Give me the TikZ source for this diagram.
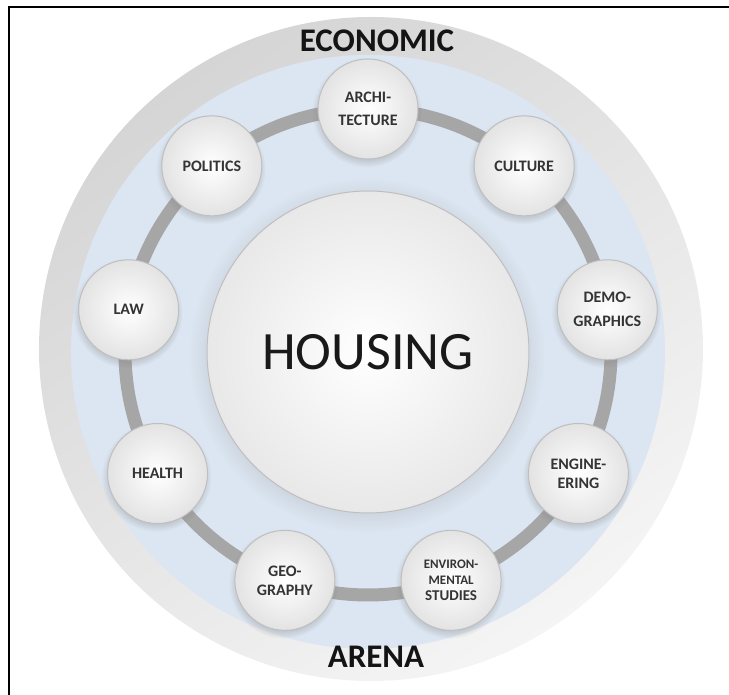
\documentclass[tikz,border=0pt]{standalone}
\usepackage{fontspec}
\setmainfont{Carlito}
\usetikzlibrary{shadows}

\definecolor{ringgray}{RGB}{166,166,166}
\definecolor{paleblue}{RGB}{220,230,242}
\definecolor{labelgray}{RGB}{52,52,52}

\tikzset{
  topic/.style={circle, minimum size=100pt, inner sep=0pt, align=center,
    draw=gray!50, line width=1pt, inner color=white, outer color=gray!22,
    circular drop shadow={shadow xshift=-1pt, shadow yshift=-3pt, opacity=0.3},
    text=labelgray, font=\fontsize{16}{19}\selectfont\bfseries},
  hub/.style={circle, minimum size=322pt, inner sep=0pt,
    draw=gray!50, line width=1pt, inner color=white, outer color=gray!18,
    circular drop shadow={shadow xshift=-1pt, shadow yshift=-3pt, opacity=0.2},
    text=black!90, font=\fontsize{54}{60}\selectfont},
  arenatitle/.style={inner sep=0pt, text=black!92,
    font=\fontsize{33}{36}\selectfont\bfseries}
}

\begin{document}
\begin{tikzpicture}[x=1pt,y=1pt]

  \useasboundingbox (-368,-343) rectangle (361,352);

  % Frame
  \draw[line width=2pt] (-359,-343) -- (-359,345) -- (361,345);

  % Arena
  \shade[top color=gray!33, bottom color=gray!8, shading angle=35] (3,3) circle (332);
  \fill[paleblue] (0,0) circle (297);

  % Ring
  \draw[ringgray, line width=13pt] (0,0) circle (243);

  \node[hub] (housing) at (0,0) {HOUSING};

  \node[topic] (arch) at (90:243) {ARCHI-\\[4pt]TECTURE};
  \node[topic] (culture) at (50:243) {CULTURE};
  \node[topic] (demo) at (10:243) {DEMO-\\[5pt]GRAPHICS};
  \node[topic] (engin) at (-30:243) {ENGINE-\\ERING};
  \node[topic, font=\fontsize{13}{16}\selectfont\bfseries] (envir) at (-70:243)
    {ENVIRON-\\MENTAL\\{\fontsize{15}{16}\selectfont STUDIES}};
  \node[topic] (geo) at (-110:243) {GEO-\\GRAPHY};
  \node[topic] (health) at (-150:243) {HEALTH};
  \node[topic] (law) at (170:243) {LAW};
  \node[topic] (politics) at (130:243) {POLITICS};

  \node[arenatitle] (economic) at (9,311) {ECONOMIC};
  \node[arenatitle] (arena) at (8,-305) {ARENA};

\end{tikzpicture}
\end{document}
